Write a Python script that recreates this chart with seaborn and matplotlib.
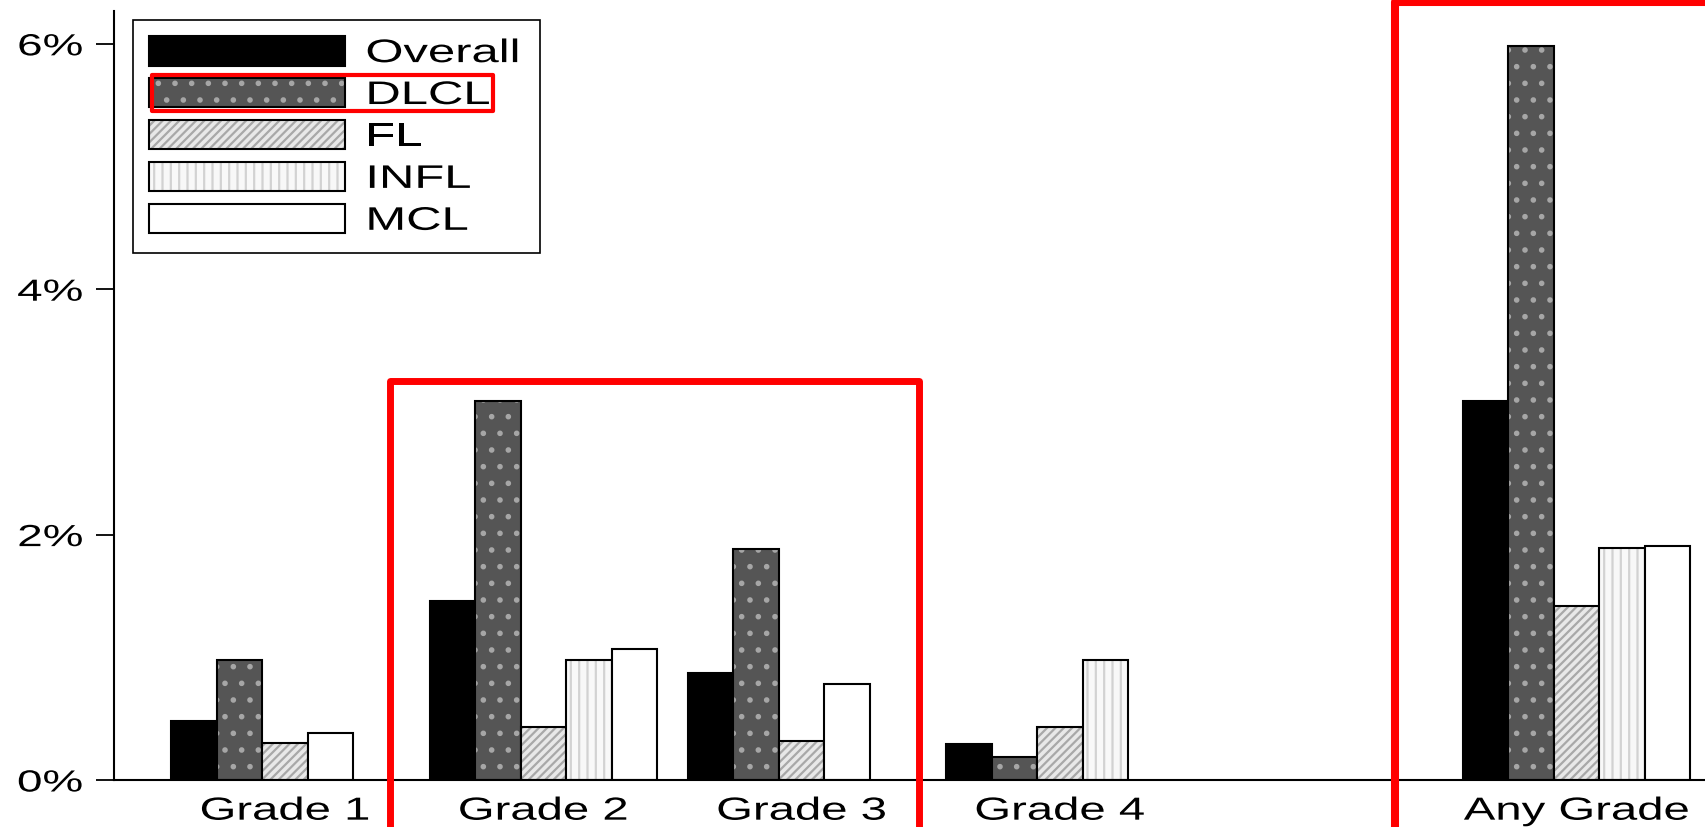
import numpy as np
import pandas as pd
import matplotlib
matplotlib.use("Agg")
import matplotlib.pyplot as plt
import matplotlib.colors as mcolors
from matplotlib.patches import Rectangle
from matplotlib.patheffects import AbstractPathEffect
from matplotlib.transforms import Affine2D
import seaborn as sns

# ---------------- data ----------------
categories = ["Grade 1", "Grade 2", "Grade 3", "Grade 4", "Any Grade"]
series = ["Overall", "DLCL", "FL", "INFL", "MCL"]
overall = [0.48, 1.46, 0.87, 0.29, 3.09]
dlcl = [0.98, 3.09, 1.88, 0.19, 5.98]
fl = [0.30, 0.43, 0.32, 0.43, 1.42]
infl = [0.00, 0.98, 0.00, 0.98, 1.89]
mcl = [0.38, 1.07, 0.78, 0.00, 1.91]
y_ticks = [0, 2, 4, 6]
y_tick_labels = ["0%", "2%", "4%", "6%"]

# ---------------- styling ----------------
fills = {"Overall": "#000000", "DLCL": "#555555", "FL": "#e8e8e8",
         "INFL": "#f8f8f8", "MCL": "#ffffff"}
hatches = {"Overall": None, "DLCL": ".", "FL": "////", "INFL": "||", "MCL": None}
hatch_colors = {"Overall": "#000000", "DLCL": "#a6a6a6", "FL": "#a8a8a8",
                "INFL": "#d2d2d2", "MCL": "#000000"}

BAR_W = 0.176
GROUP_START = -0.44
GAP_BEFORE_LAST = 1


class HStretch(AbstractPathEffect):
    """Horizontally stretch text glyphs about an anchor."""
    def __init__(self, sx, anchor="center"):
        super().__init__()
        self.sx = sx
        self.anchor = anchor

    def draw_path(self, renderer, gc, tpath, affine, rgbFace=None):
        ext = tpath.get_extents()
        if self.anchor == "left":
            cx = 0.0
        elif self.anchor == "right":
            cx = ext.x1
        else:
            cx = (ext.x0 + ext.x1) / 2.0
        t = Affine2D().translate(-cx, 0).scale(self.sx, 1.0).translate(cx, 0)
        renderer.draw_path(gc, tpath, t + affine, rgbFace)


sns.set_theme(style="ticks")
plt.rcParams["font.family"] = ["Liberation Sans", "DejaVu Sans"]
plt.rcParams["hatch.linewidth"] = 1.6
plt.rcParams["text.color"] = "black"

# ---------------- long table (zero bars dropped, remaining bars packed left) ----------------
values = {"Overall": overall, "DLCL": dlcl, "FL": fl, "INFL": infl, "MCL": mcl}
rows = []
for gi, cat in enumerate(categories):
    gpos = gi + (GAP_BEFORE_LAST if gi == len(categories) - 1 else 0)
    slot = 0
    for s in series:
        v = values[s][gi]
        if v > 0:
            rows.append({"group": cat, "series": s, "value": v,
                         "pos": gpos + GROUP_START + (slot + 0.5) * BAR_W})
            slot += 1
df = pd.DataFrame(rows)
group_centers = [gi + (GAP_BEFORE_LAST if gi == len(categories) - 1 else 0)
                 for gi in range(len(categories))]

fig = plt.figure(figsize=(17.05, 8.27), dpi=100)
ax = fig.add_axes([114 / 1705, 47 / 827, (1705 - 114) / 1705, 769.3 / 827])

sns.barplot(data=df, x="pos", y="value", hue="series", hue_order=series,
            palette=fills, native_scale=True, dodge=False, width=1.0,
            errorbar=None, legend=False, saturation=1, linewidth=1.5,
            edgecolor="black", ax=ax)

for s, cont in zip(series, ax.containers):
    for p in cont.patches:
        p.set_edgecolor("black")
        if hatches[s]:
            p.set_hatch(hatches[s])
            if hasattr(p, "set_hatchcolor"):
                p.set_hatchcolor(hatch_colors[s])
            else:
                p._hatch_color = mcolors.to_rgba(hatch_colors[s])

ax.set_xlim(-0.662, 5.497)
ax.set_ylim(0, 6.27)
ax.set_xticks(group_centers)
ax.set_xticklabels(categories)
ax.set_yticks(y_ticks)
ax.set_yticklabels(y_tick_labels)
ax.set_xlabel("")
ax.set_ylabel("")
sns.despine(ax=ax)
for sp in ["left", "bottom"]:
    ax.spines[sp].set_linewidth(1.5)
    ax.spines[sp].set_color("black")
ax.tick_params(axis="y", length=13, width=1.3, pad=9.4, labelsize=22,
               colors="black")
ax.tick_params(axis="x", length=0, pad=12, labelsize=23, colors="black")

for t in ax.get_xticklabels():
    t.set_path_effects([HStretch(1.48, "center")])
for t in ax.get_yticklabels():
    t.set_path_effects([HStretch(1.5, "right")])

# legend
handles = [c.patches[0] for c in ax.containers]
lx0 = (133 - 114) / 1591
lw = (540 - 133) / 1591
ltop = (780 - 20) / 769.3
leg = ax.legend(handles, series, loc="upper left",
                bbox_to_anchor=(lx0, ltop - 0.4, lw, 0.4), mode="expand",
                borderaxespad=0, fontsize=23.5, handlelength=6.0,
                handleheight=1.0, labelspacing=0.28, handletextpad=0.62,
                borderpad=0.5, frameon=True, fancybox=False, framealpha=1,
                edgecolor="black")
leg.get_frame().set_linewidth(1.2)
for t in leg.get_texts():
    t.set_path_effects([HStretch(1.5, "left")])
    t.set_color("black")

# red highlight boxes (annotations)
ax.add_patch(Rectangle((0.408, -1.0), 2.453 - 0.408, 3.256 + 1.0, fill=False,
                       edgecolor="#ff0000", linewidth=5.0, clip_on=False,
                       joinstyle="round", zorder=10))
ax.add_patch(Rectangle((4.297, -1.0), 6.5 - 4.297, 6.337 + 1.0, fill=False,
                       edgecolor="#ff0000", linewidth=5.8, clip_on=False,
                       joinstyle="round", zorder=10))
fig.add_artist(Rectangle((152 / 1705, 1 - 111 / 827), (493 - 152) / 1705,
                         36 / 827, fill=False, edgecolor="#ff0000",
                         linewidth=3.0, transform=fig.transFigure,
                         joinstyle="round", zorder=10))

fig.savefig("out.png", dpi=100)
